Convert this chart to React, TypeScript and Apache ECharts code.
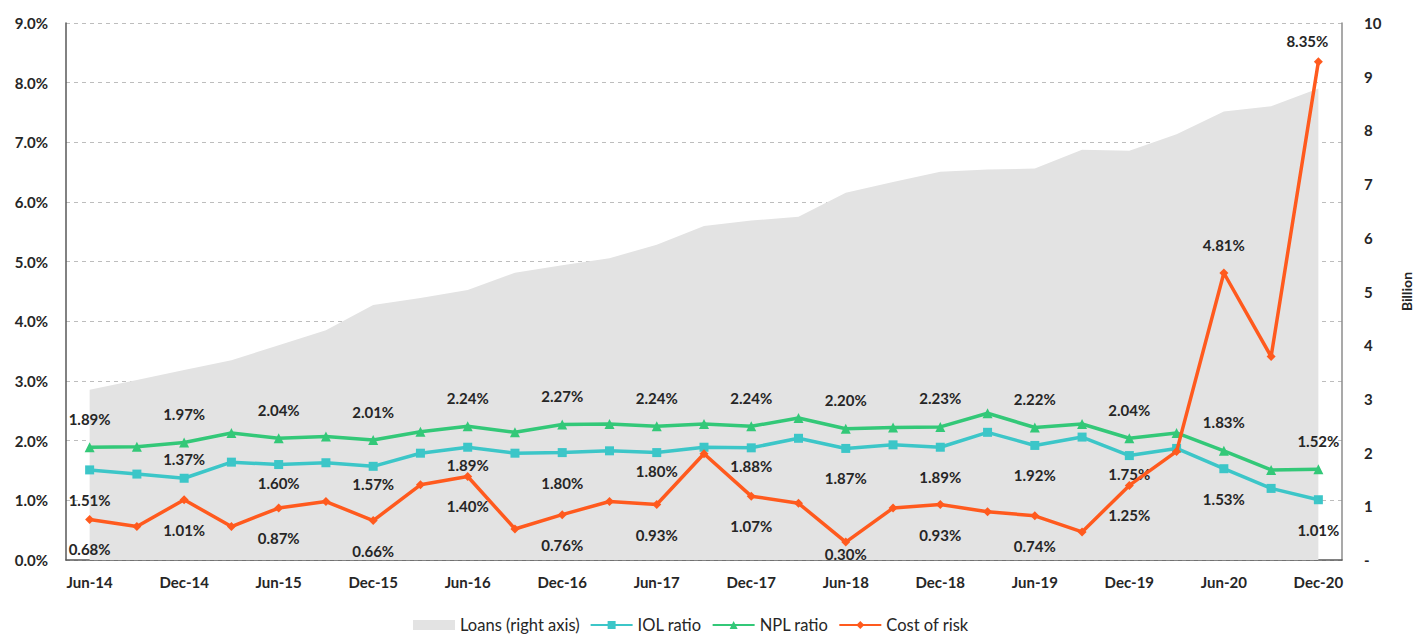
import { useEffect, useRef } from 'react';
import * as echarts from 'echarts';

const categories = [
  'Jun-14', 'Sep-14', 'Dec-14', 'Mar-15', 'Jun-15', 'Sep-15', 'Dec-15', 'Mar-16', 'Jun-16',
  'Sep-16', 'Dec-16', 'Mar-17', 'Jun-17', 'Sep-17', 'Dec-17', 'Mar-18', 'Jun-18', 'Sep-18',
  'Dec-18', 'Mar-19', 'Jun-19', 'Sep-19', 'Dec-19', 'Mar-20', 'Jun-20', 'Sep-20', 'Dec-20',
];

// Billion (right axis)
const loans = [
  3.17, 3.35, 3.54, 3.72, 4.0, 4.28, 4.75, 4.88, 5.03, 5.35, 5.49, 5.62, 5.87, 6.22, 6.32,
  6.39, 6.84, 7.04, 7.23, 7.27, 7.29, 7.64, 7.62, 7.93, 8.35, 8.45, 8.78,
];

// % (left axis)
const iolRatio = [
  1.51, 1.44, 1.37, 1.64, 1.6, 1.63, 1.57, 1.79, 1.89, 1.79, 1.8, 1.83, 1.8, 1.89, 1.88,
  2.04, 1.87, 1.93, 1.89, 2.14, 1.92, 2.06, 1.75, 1.87, 1.53, 1.2, 1.01,
];

const nplRatio = [
  1.89, 1.9, 1.97, 2.13, 2.04, 2.07, 2.01, 2.15, 2.24, 2.14, 2.27, 2.28, 2.24, 2.28, 2.24,
  2.38, 2.2, 2.22, 2.23, 2.46, 2.22, 2.28, 2.04, 2.13, 1.83, 1.51, 1.52,
];

const costOfRisk = [
  0.68, 0.56, 1.01, 0.56, 0.87, 0.98, 0.66, 1.26, 1.4, 0.52, 0.76, 0.98, 0.93, 1.78, 1.07,
  0.95, 0.3, 0.87, 0.93, 0.81, 0.74, 0.47, 1.25, 1.82, 4.81, 3.41, 8.35,
];

const FONT = 'Lato, "Open Sans", "DejaVu Sans", sans-serif';
const TEXT = '#262626';

export default function App() {
  const ref = useRef<HTMLDivElement>(null);

  useEffect(() => {
    document.body.style.margin = '0';
    const chart = echarts.init(ref.current!, null, { renderer: 'svg' });

    const labelBase = {
      fontFamily: FONT,
      fontSize: 15,
      fontWeight: 'bold' as const,
      color: TEXT,
      formatter: (p: any) => Number(p.value).toFixed(2) + '%',
    };

    // label placement tweaks (layout only)
    const iolPlacement: Record<number, string> = {
      0: 'far', 2: 'top', 4: 'close', 6: 'close', 8: 'close', 10: 'far', 12: 'close',
      14: 'close', 16: 'far', 18: 'far', 20: 'far', 22: 'close', 24: 'far', 26: 'far',
    };

    const iolData = iolRatio.map((v, i) => {
      const show = i % 2 === 0;
      const pl = iolPlacement[i];
      return {
        value: v,
        label: {
          show,
          position: pl === 'top' ? 'top' : 'bottom',
          distance: pl === 'far' ? 18 : pl === 'top' ? 7 : 6,
        },
      };
    });

    const nplData = nplRatio.map((v, i) => ({
      value: v,
      label: { show: i % 2 === 0, position: 'top', distance: 16 },
    }));

    const corData = costOfRisk.map((v, i) => {
      const show = i % 2 === 0;
      let label: any = { show, position: 'bottom', distance: 18 };
      if (i === 16) label = { show, position: 'bottom', distance: 0 };
      if (i === 24) label = { show, position: 'top', distance: 16 };
      if (i === 26) label = { show, position: 'top', distance: 9, offset: [-11, 0] };
      return { value: v, label };
    });

    const option: any = {
      animation: false,
      backgroundColor: '#ffffff',
      textStyle: { fontFamily: FONT },
      grid: { left: 66, right: 71, top: 23, bottom: 79, containLabel: false },
      legend: {
        top: 612,
        left: 408,
        itemWidth: 42,
        itemHeight: 10,
        itemGap: 10,
        padding: [4, 5, 4, 5],
        textStyle: { fontFamily: FONT, fontSize: 16.5, color: TEXT, lineHeight: 18 },
        data: [
          { name: 'Loans (right axis)', icon: 'rect', itemStyle: { color: '#E3E3E3' } },
          { name: 'IOL ratio' },
          { name: 'NPL ratio' },
          { name: 'Cost of risk' },
        ],
      },
      xAxis: {
        type: 'category',
        data: categories,
        boundaryGap: true,
        axisLine: { show: true, lineStyle: { color: '#595959', width: 1.5 } },
        axisTick: { show: false },
        axisLabel: {
          interval: 1,
          margin: 14,
          fontFamily: FONT,
          fontSize: 15,
          fontWeight: 'bold',
          color: TEXT,
        },
        splitLine: { show: false },
      },
      yAxis: [
        {
          type: 'value',
          min: 0,
          max: 9,
          interval: 1,
          axisLine: { show: true, lineStyle: { color: '#595959', width: 1.5 } },
          axisTick: { show: false },
          axisLabel: {
            margin: 18,
            fontFamily: FONT,
            fontSize: 15,
            fontWeight: 'bold',
            color: TEXT,
            formatter: (v: number) => v.toFixed(1) + '%',
          },
          splitLine: {
            show: true,
            lineStyle: { color: '#BDBDBD', type: [4, 4], width: 1.2 },
          },
        },
        {
          type: 'value',
          position: 'right',
          min: 0,
          max: 10,
          interval: 1,
          axisLine: { show: true, lineStyle: { color: '#8C8C8C', width: 1.5 } },
          axisTick: { show: false },
          axisLabel: {
            margin: 22,
            fontFamily: FONT,
            fontSize: 15,
            fontWeight: 'bold',
            color: TEXT,
            formatter: (v: number) => (v === 0 ? '-' : String(v)),
          },
          splitLine: { show: false },
          name: 'Billion',
          nameLocation: 'middle',
          nameRotate: 90,
          nameGap: 57,
          nameTextStyle: {
            fontFamily: FONT,
            fontSize: 14,
            fontWeight: 'bold',
            color: TEXT,
          },
        },
      ],
      series: [
        {
          name: 'Loans (right axis)',
          type: 'line',
          yAxisIndex: 1,
          data: loans,
          symbol: 'none',
          lineStyle: { width: 0, color: '#E3E3E3' },
          itemStyle: { color: '#E3E3E3' },
          areaStyle: { color: '#E3E3E3', opacity: 1 },
          z: 1,
        },
        {
          name: 'IOL ratio',
          type: 'line',
          data: iolData,
          symbol: 'rect',
          symbolSize: 9,
          lineStyle: { width: 3.5, color: '#3CC6C8' },
          itemStyle: { color: '#3CC6C8' },
          label: labelBase,
          z: 3,
        },
        {
          name: 'NPL ratio',
          type: 'line',
          data: nplData,
          symbol: 'triangle',
          symbolSize: 10,
          lineStyle: { width: 3.5, color: '#33C878' },
          itemStyle: { color: '#33C878' },
          label: labelBase,
          z: 3,
        },
        {
          name: 'Cost of risk',
          type: 'line',
          data: corData,
          symbol: 'diamond',
          symbolSize: 9,
          lineStyle: { width: 3.5, color: '#FF5A1E' },
          itemStyle: { color: '#FF5A1E' },
          label: labelBase,
          z: 4,
        },
      ],
    };

    chart.setOption(option);
    return () => chart.dispose();
  }, []);

  return <div ref={ref} style={{ width: 1421, height: 639 }} />;
}
